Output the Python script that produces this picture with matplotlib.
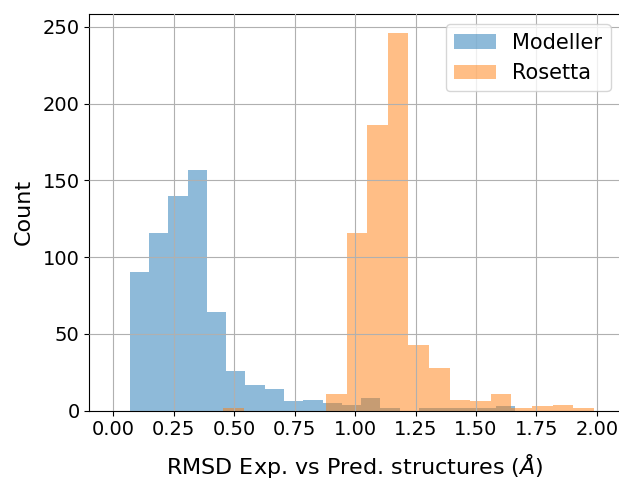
import numpy as np
import matplotlib
matplotlib.use("Agg")
import matplotlib.pyplot as plt

# Modeller histogram: 20 bins
modeller_start = 0.0675
modeller_end = 1.6627
modeller_counts = [90, 116, 140, 157, 64, 26, 17, 14, 6, 7, 5, 4, 8, 2, 0, 2, 2, 2, 2, 3]

# Rosetta histogram: 18 bins
rosetta_start = 0.4536
rosetta_end = 1.9868
rosetta_counts = [2, 0, 0, 0, 0, 11, 116, 186, 246, 43, 28, 7, 6, 11, 2, 3, 4, 2]

labels = ["Modeller", "Rosetta"]
xticks = [0.00, 0.25, 0.50, 0.75, 1.00, 1.25, 1.50, 1.75, 2.00]

plt.rcParams['font.family'] = ['DejaVu Sans']

fig = plt.figure(figsize=(6.19, 4.78), dpi=100)
ax = fig.add_axes([0.1443, 0.1408, 0.859, 0.830])

m_edges = np.linspace(modeller_start, modeller_end, len(modeller_counts) + 1)
r_edges = np.linspace(rosetta_start, rosetta_end, len(rosetta_counts) + 1)
m_centers = (m_edges[:-1] + m_edges[1:]) / 2
r_centers = (r_edges[:-1] + r_edges[1:]) / 2

ax.hist(m_centers, bins=m_edges, weights=modeller_counts, alpha=0.5,
        color='tab:blue', label=labels[0])
ax.hist(r_centers, bins=r_edges, weights=rosetta_counts, alpha=0.5,
        color='tab:orange', label=labels[1])

ax.set_xlim(-0.1, 2.1)
ax.set_xticks(xticks)
ax.set_xticklabels([f"{t:.2f}" for t in xticks])
ax.grid(True)
ax.set_axisbelow(False)
ax.tick_params(labelsize=14)
ax.set_xlabel(r"RMSD Exp. vs Pred. structures ($\AA$)", fontsize=16, labelpad=9)
ax.set_ylabel("Count", fontsize=16, labelpad=6)
ax.legend(loc='upper right', fontsize=15)

fig.savefig("out.png", dpi=100)
